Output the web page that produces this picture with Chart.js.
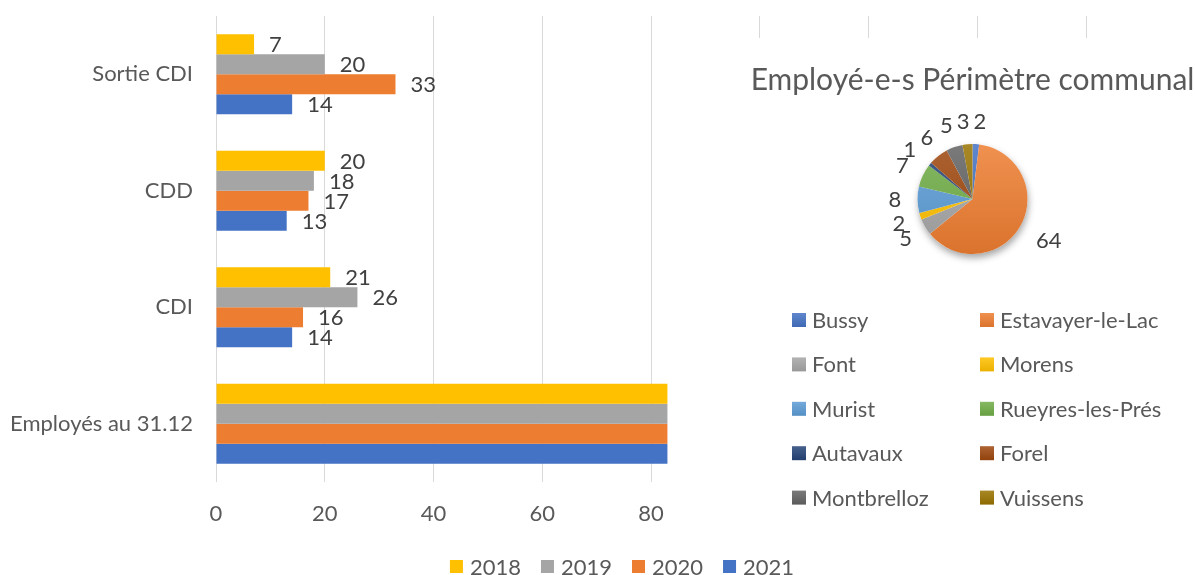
<!DOCTYPE html>
<html><head><meta charset="utf-8">
<script src="https://cdn.jsdelivr.net/npm/chart.js@4/dist/chart.umd.min.js"></script>
<style>
html,body{margin:0;padding:0;background:#fff;overflow:hidden;width:1195px;height:575px;}
#barWrap{position:absolute;left:0;top:0;width:1195px;height:575px;}
#pieWrap{position:absolute;left:680px;top:38px;width:585px;height:497px;background:#fff;}
</style></head><body>
<div id="barWrap"><canvas id="bar"></canvas></div>
<div id="pieWrap"><canvas id="pie"></canvas></div>
<script>
// ---- data ----
const categories = ['Sortie CDI', 'CDD', 'CDI', 'Employés au 31.12'];
const years = ['2018', '2019', '2020', '2021'];
const values2018 = [7, 20, 21, 83];
const values2019 = [20, 18, 26, 83];
const values2020 = [33, 17, 16, 83];
const values2021 = [14, 13, 14, 83];
const xAxisMin = 0, xAxisMax = 180, xAxisStep = 20;

const pieTitle = 'Employé-e-s Périmètre communal';
const communes = ['Bussy', 'Estavayer-le-Lac', 'Font', 'Morens', 'Murist', 'Rueyres-les-Prés', 'Autavaux', 'Forel', 'Montbrelloz', 'Vuissens'];
const communeCounts = [2, 64, 5, 2, 8, 7, 1, 6, 5, 3];

// ---- styles ----
const FONT = 'Lato, "Open Sans", sans-serif';
const FS = 22;
const barColors = ['#FFC000', '#A5A5A5', '#ED7D31', '#4472C4'];
const pieColors = ['#4472C4', '#ED7D31', '#A5A5A5', '#FFC000', '#5B9BD5', '#70AD47', '#264478', '#9E480E', '#636363', '#997300'];
const axisText = '#595959';
const labelText = '#404040';

const seriesValues = [values2018, values2019, values2020, values2021];

function mix(hex, target, t) {
  const n = parseInt(hex.slice(1), 16);
  const r = (n >> 16) & 255, g = (n >> 8) & 255, b = n & 255;
  const m = c => Math.round(c + (target - c) * t);
  return 'rgb(' + m(r) + ',' + m(g) + ',' + m(b) + ')';
}

const barLabels = {
  id: 'barLabels',
  afterDatasetsDraw(chart) {
    const ctx = chart.ctx;
    ctx.save();
    ctx.font = FS + 'px ' + FONT;
    ctx.fillStyle = labelText;
    ctx.textAlign = 'left';
    ctx.textBaseline = 'middle';
    chart.data.datasets.forEach((ds, i) => {
      chart.getDatasetMeta(i).data.forEach((bar, j) => {
        ctx.fillText(String(ds.data[j]), bar.x + 15, bar.y + 1);
      });
    });
    ctx.restore();
  }
};

const barLegend = {
  id: 'barLegend',
  afterDraw(chart) {
    const ctx = chart.ctx;
    ctx.save();
    ctx.font = FS + 'px ' + FONT;
    const box = 13, gap = 7, sp = 20;
    const ws = chart.data.datasets.map(d => ctx.measureText(d.label).width);
    const total = ws.reduce((a, w) => a + box + gap + w, 0) + sp * (ws.length - 1);
    let x = 622 - total / 2;
    const y = 566.5;
    chart.data.datasets.forEach((d, i) => {
      ctx.fillStyle = d.backgroundColor;
      ctx.fillRect(x, y - box / 2, box, box);
      ctx.fillStyle = axisText;
      ctx.textAlign = 'left';
      ctx.textBaseline = 'middle';
      ctx.fillText(d.label, x + box + gap, y + 1);
      x += box + gap + ws[i] + sp;
    });
    ctx.restore();
  }
};

new Chart(document.getElementById('bar'), {
  type: 'bar',
  data: {
    labels: categories,
    datasets: years.map((y, i) => ({
      label: y,
      data: seriesValues[i],
      backgroundColor: barColors[i],
      borderWidth: 0,
      categoryPercentage: 0.687,
      barPercentage: 1.0
    }))
  },
  options: {
    indexAxis: 'y',
    responsive: true,
    maintainAspectRatio: false,
    animation: false,
    layout: { padding: { top: 16, left: 0, right: 0, bottom: 0 } },
    plugins: { legend: { display: false }, tooltip: { enabled: false } },
    scales: {
      x: {
        min: xAxisMin, max: xAxisMax,
        ticks: { stepSize: xAxisStep, color: axisText, font: { family: FONT, size: FS }, padding: 19, maxRotation: 0, autoSkip: false },
        grid: { color: '#d9d9d9', lineWidth: 1, drawTicks: false },
        border: { display: false },
        afterFit(s) { s.height = 93; s.paddingRight = 0; s.paddingLeft = 0; }
      },
      y: {
        ticks: { color: axisText, font: { family: FONT, size: FS }, padding: 23 },
        grid: { display: false, drawTicks: false },
        border: { display: false },
        afterFit(s) { s.width = 216; s.paddingTop = 0; s.paddingBottom = 0; }
      }
    }
  },
  plugins: [barLabels, barLegend]
});

// ---- pie ----
const pieDecor = {
  id: 'pieDecor',
  beforeDatasetsDraw(chart) {
    const arc = chart.getDatasetMeta(0).data[0];
    if (!arc) return;
    const ctx = chart.ctx;
    ctx.save();
    ctx.shadowColor = 'rgba(0,0,0,0.35)';
    ctx.shadowBlur = 7;
    ctx.shadowOffsetX = 1;
    ctx.shadowOffsetY = 4;
    ctx.fillStyle = '#ffffff';
    ctx.beginPath();
    ctx.arc(arc.x, arc.y, arc.outerRadius, 0, Math.PI * 2);
    ctx.fill();
    ctx.restore();
  },
  afterDatasetsDraw(chart) {
    const ctx = chart.ctx;
    ctx.save();
    // title
    ctx.font = '30px ' + FONT;
    ctx.fillStyle = axisText;
    ctx.textAlign = 'center';
    ctx.textBaseline = 'middle';
    ctx.fillText(pieTitle, chart.width / 2, 42);
    // slice labels
    ctx.font = FS + 'px ' + FONT;
    ctx.fillStyle = labelText;
    const ds = chart.data.datasets[0];
    const pos = chart.getDatasetMeta(0).data.map((arc, i) => {
      const p = arc.getProps(['x', 'y', 'startAngle', 'endAngle', 'outerRadius']);
      const mid = (p.startAngle + p.endAngle) / 2;
      const t = String(ds.data[i]);
      const w = ctx.measureText(t).width;
      const d = p.outerRadius + 13 + w * 0.75;
      return { t, w, x: p.x + Math.cos(mid) * d, y: p.y + Math.sin(mid) * d };
    });
    // simple horizontal separation of overlapping neighbours
    for (let k = 0; k < 3; k++) {
      for (let i = 0; i < pos.length; i++) {
        const a = pos[i], b = pos[(i + 1) % pos.length];
        const need = (a.w + b.w) / 2 + 4;
        if (Math.abs(a.y - b.y) < 14 && Math.abs(a.x - b.x) < need) {
          const push = (need - Math.abs(a.x - b.x)) / 2;
          if (a.x < b.x) { a.x -= push; b.x += push; } else { a.x += push; b.x -= push; }
        }
      }
    }
    pos.forEach(p => ctx.fillText(p.t, p.x, p.y));
    // legend (2 columns)
    const colX = [112, 300], rowY0 = 282, rowH = 44.4, box = 14;
    chart.data.labels.forEach((lab, i) => {
      const cx = colX[i % 2];
      const cy = rowY0 + Math.floor(i / 2) * rowH;
      const g = ctx.createLinearGradient(0, cy - box / 2, 0, cy + box / 2);
      g.addColorStop(0, mix(pieColors[i], 255, 0.15));
      g.addColorStop(1, mix(pieColors[i], 0, 0.08));
      ctx.fillStyle = g;
      ctx.fillRect(cx, cy - box / 2, box, box);
      ctx.fillStyle = axisText;
      ctx.textAlign = 'left';
      ctx.fillText(lab, cx + box + 6, cy + 1);
    });
    ctx.restore();
  }
};

new Chart(document.getElementById('pie'), {
  type: 'pie',
  data: {
    labels: communes,
    datasets: [{
      data: communeCounts,
      backgroundColor(c) {
        const base = pieColors[c.dataIndex];
        const area = c.chart.chartArea;
        if (!area) return base;
        const g = c.chart.ctx.createLinearGradient(0, area.top, 0, area.bottom);
        g.addColorStop(0, mix(base, 255, 0.15));
        g.addColorStop(1, mix(base, 0, 0.08));
        return g;
      },
      borderWidth: 0
    }]
  },
  options: {
    responsive: true,
    maintainAspectRatio: false,
    animation: false,
    layout: { padding: { top: 106, bottom: 281, left: 0, right: 0 } },
    plugins: { legend: { display: false }, tooltip: { enabled: false } }
  },
  plugins: [pieDecor]
});
</script>
</body></html>
